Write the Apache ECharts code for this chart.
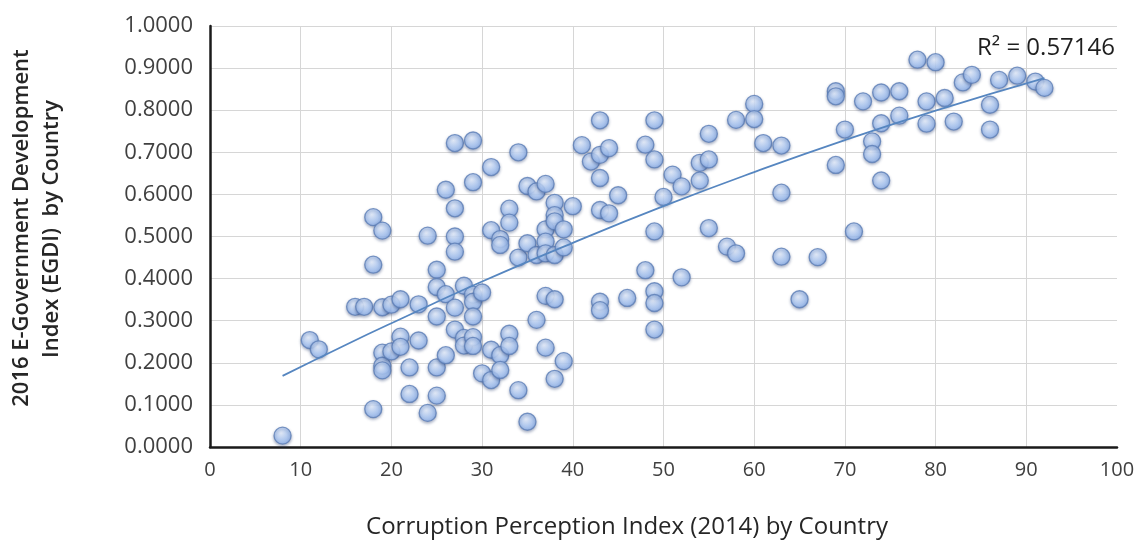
<!DOCTYPE html>
<html>
<head>
<meta charset="utf-8">
<script src="https://cdn.jsdelivr.net/npm/echarts@6/dist/echarts.min.js"></script>
<style>
  html, body { margin: 0; padding: 0; background: #ffffff; }
  #chart { width: 1144px; height: 543px; }
</style>
</head>
<body>
<div id="chart"></div>
<script>
// Corruption Perception Index (2014) per country
const cpi = [
  8, 11, 12, 16, 17,
  18, 18, 18,
  19, 19, 19, 19, 19,
  20, 20,
  21, 21, 21,
  22, 22,
  23, 23,
  24, 24,
  25, 25, 25, 25, 25,
  26, 26, 26,
  27, 27, 27, 27, 27, 27,
  28, 28, 28,
  29, 29, 29, 29, 29, 29, 29,
  30, 30,
  31, 31, 31, 31,
  32, 32, 32, 32,
  33, 33, 33, 33,
  34, 34, 34,
  35, 35, 35,
  36, 36, 36,
  37, 37, 37, 37, 37, 37,
  38, 38, 38, 38, 38, 38,
  39, 39, 39,
  40, 41, 42,
  43, 43, 43, 43, 43, 43,
  44, 44,
  45, 46,
  48, 48,
  49, 49, 49, 49, 49, 49,
  50, 51,
  52, 52,
  54, 54,
  55, 55, 55,
  57,
  58, 58,
  60, 60,
  61,
  63, 63, 63,
  65, 67,
  69, 69, 69,
  70, 71, 72,
  73, 73,
  74, 74, 74,
  76, 76,
  78,
  79, 79,
  80, 81, 82, 83, 84,
  86, 86,
  87, 89, 91, 92
];

// 2016 E-Government Development Index per country (same order)
const egdi = [
  0.027, 0.254, 0.232, 0.333, 0.333,
  0.546, 0.433, 0.090,
  0.514, 0.332, 0.224, 0.193, 0.182,
  0.338, 0.227,
  0.351, 0.262, 0.238,
  0.189, 0.126,
  0.339, 0.253,
  0.502, 0.081,
  0.421, 0.380, 0.310, 0.189, 0.122,
  0.611, 0.363, 0.218,
  0.722, 0.567, 0.500, 0.464, 0.331, 0.279,
  0.383, 0.259, 0.241,
  0.728, 0.629, 0.362, 0.345, 0.310, 0.261, 0.240,
  0.367, 0.175,
  0.665, 0.515, 0.231, 0.159,
  0.494, 0.480, 0.218, 0.183,
  0.566, 0.533, 0.269, 0.240,
  0.700, 0.450, 0.135,
  0.620, 0.484, 0.060,
  0.607, 0.456, 0.302,
  0.625, 0.517, 0.488, 0.460, 0.359, 0.236,
  0.580, 0.551, 0.536, 0.456, 0.351, 0.162,
  0.517, 0.474, 0.204,
  0.572, 0.717, 0.678,
  0.776, 0.694, 0.639, 0.563, 0.345, 0.325,
  0.710, 0.555,
  0.598, 0.354,
  0.718, 0.420,
  0.776, 0.683, 0.512, 0.370, 0.342, 0.279,
  0.594, 0.647,
  0.619, 0.403,
  0.675, 0.633,
  0.744, 0.683, 0.520,
  0.476,
  0.777, 0.460,
  0.815, 0.779,
  0.722,
  0.716, 0.604, 0.452,
  0.351, 0.451,
  0.845, 0.833, 0.670,
  0.754, 0.512, 0.821,
  0.726, 0.696,
  0.842, 0.769, 0.633,
  0.845, 0.787,
  0.920,
  0.821, 0.768,
  0.914, 0.829, 0.773, 0.866, 0.884,
  0.813, 0.754,
  0.872, 0.882, 0.868, 0.853
];

// Fitted trend curve, sampled along its length
const trendX = [8, 15, 20, 30, 40, 50, 60, 70, 80, 92];
const trendY = [0.169, 0.243, 0.294, 0.393, 0.485, 0.572, 0.653, 0.729, 0.799, 0.876];

const rSquaredText = 'R\u00B2 = 0.57146';
const xTitle = 'Corruption Perception Index (2014) by Country';
const yTitle = ['2016 E-Government Development', 'Index (EGDI)  by Country'];

const points = cpi.map((c, i) => [c, egdi[i]]);
const trend = trendX.map((x, i) => [x, trendY[i]]);

const chart = echarts.init(document.getElementById('chart'), null, { renderer: 'canvas' });

chart.setOption({
  animation: false,
  backgroundColor: '#ffffff',
  grid: { left: 210, right: 27, top: 26, bottom: 96, containLabel: false },
  xAxis: {
    type: 'value',
    min: 0, max: 100, interval: 10,
    axisLine: { show: true, onZero: false, lineStyle: { color: '#1a1a1a', width: 2.5 } },
    axisTick: { show: false },
    axisLabel: { margin: 13, fontFamily: 'Open Sans', fontSize: 20, color: '#404040' },
    splitLine: { show: true, showMaxLine: false, lineStyle: { color: '#d6d6d6', width: 1 } }
  },
  yAxis: {
    type: 'value',
    min: 0, max: 1, interval: 0.1,
    axisLine: { show: true, onZero: false, lineStyle: { color: '#1a1a1a', width: 2.5 } },
    axisTick: { show: false },
    axisLabel: {
      margin: 17, fontFamily: 'Open Sans', fontSize: 22, color: '#404040',
      formatter: v => v.toFixed(4)
    },
    splitLine: { show: true, lineStyle: { color: '#d6d6d6', width: 1 } }
  },
  series: [
    {
      type: 'scatter',
      data: points,
      symbol: 'circle',
      symbolSize: 17,
      z: 2,
      itemStyle: {
        color: {
          type: 'radial', x: 0.42, y: 0.36, r: 0.65,
          colorStops: [
            { offset: 0, color: '#eaf2ff' },
            { offset: 0.55, color: '#b3cef7' },
            { offset: 1, color: '#8cb1ec' }
          ]
        },
        borderColor: '#5b7db5',
        borderWidth: 1.3,
        shadowBlur: 3,
        shadowColor: 'rgba(40, 60, 110, 0.45)',
        shadowOffsetY: 1.5
      }
    },
    {
      type: 'line',
      data: trend,
      smooth: true,
      symbol: 'none',
      z: 3,
      lineStyle: { color: '#5686c0', width: 1.8 }
    }
  ],
  graphic: [
    {
      type: 'text',
      x: 1046, y: 48,
      style: {
        text: rSquaredText,
        fontFamily: 'Open Sans', fontSize: 24, fill: '#1e1e1e',
        textAlign: 'center', textVerticalAlign: 'middle'
      }
    },
    {
      type: 'text',
      x: 627, y: 527,
      style: {
        text: xTitle,
        fontFamily: 'Open Sans', fontSize: 24, fill: '#262626',
        textAlign: 'center', textVerticalAlign: 'middle'
      }
    },
    {
      type: 'text',
      x: 22, y: 228, rotation: Math.PI / 2,
      style: {
        text: yTitle[0],
        fontFamily: 'Open Sans', fontSize: 22, fontWeight: 600, fill: '#262626',
        textAlign: 'center', textVerticalAlign: 'middle'
      }
    },
    {
      type: 'text',
      x: 52, y: 229, rotation: Math.PI / 2,
      style: {
        text: yTitle[1],
        fontFamily: 'Open Sans', fontSize: 22, fontWeight: 600, fill: '#262626',
        textAlign: 'center', textVerticalAlign: 'middle'
      }
    }
  ]
});
</script>
</body>
</html>
